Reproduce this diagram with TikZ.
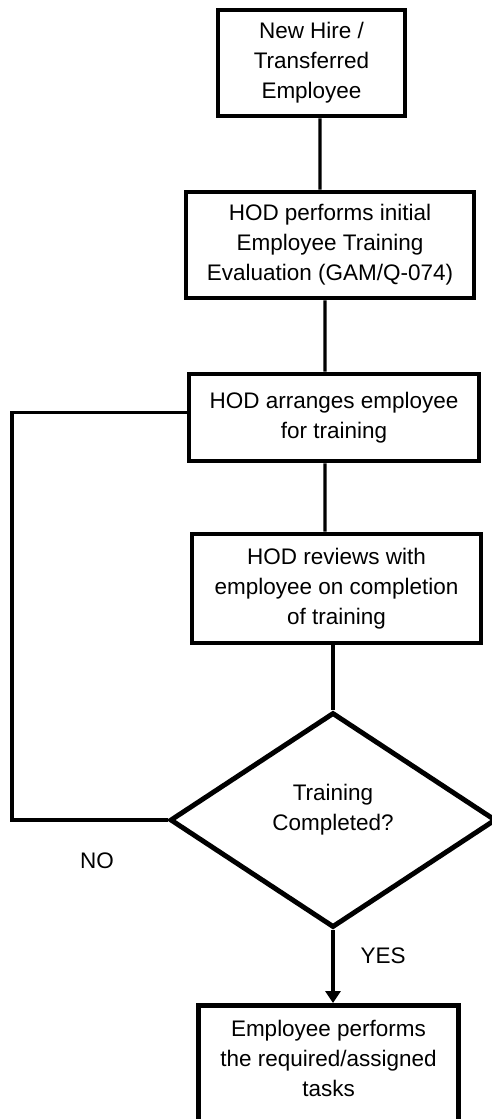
\documentclass[tikz,border=0pt]{standalone}
\usepackage{fontspec}
\setmainfont{Liberation Sans}
\usetikzlibrary{arrows.meta,positioning,shapes.geometric}

\begin{document}
\begin{tikzpicture}[
    x=0.02cm,y=-0.02cm,
    box/.style={draw=black,line width=2.8pt,fill=none,
      align=center,inner sep=2pt,font=\fontsize{12.8}{17}\selectfont},
    decision/.style={diamond,draw=black,line width=2.8pt,inner sep=0pt,
      align=center,minimum width=6.52cm,minimum height=4.3cm,
      font=\fontsize{12.8}{17}\selectfont},
    link/.style={draw=black,line width=1.9pt},
    arrow/.style={-{Triangle[length=2.4mm,width=3mm]},draw=black,line width=1.9pt},
    tag/.style={font=\fontsize{12.8}{14}\selectfont}
  ]
    \useasboundingbox (0,0) rectangle (491,1119);
    \node[box,minimum width=3.74cm,minimum height=2.12cm] (hire) at (311.5,63)
      {New Hire /\\Transferred\\Employee};
    \node[box,minimum width=5.76cm,minimum height=2.12cm] (eval) at (330,245)
      {HOD performs initial\\Employee Training\\Evaluation (GAM/Q-074)};
    \node[box,minimum width=5.8cm,minimum height=1.74cm] (arr) at (334,417.5)
      {HOD arranges employee\\for training};
    \node[box,minimum width=5.78cm,minimum height=2.18cm] (review) at (336.5,588.5)
      {HOD reviews with\\employee on completion\\of training};
    \node[decision] (check) at (333,820) {Training\\Completed?\\[-1mm]};
    \node[box,anchor=north,minimum width=5.2cm,minimum height=3cm] (tasks) at (328.5,1003)
      {Employee performs\\the required/assigned\\tasks\\[3mm]~};
    \coordinate (loop) at (12,820);
    \node[tag] (no) at (97,861) {NO};
    \node[tag] (yes) at (383,956) {YES};
    \draw[link] ([xshift=0.17cm]hire.south) -- ([xshift=-0.2cm]eval.north);
    \draw[link] ([xshift=-0.1cm]eval.south) -- ([xshift=-0.18cm]arr.north);
    \draw[link] ([xshift=-0.18cm]arr.south) -- ([xshift=-0.23cm]review.north);
    \draw[link] (review.south -| check.north) -- (check.north);
    \draw[link] ([yshift=0.1cm]arr.west) -| (loop) -- (check.west);
    \draw[arrow] (check.south) -- (check.south |- tasks.north);
  \end{tikzpicture}
\end{document}
